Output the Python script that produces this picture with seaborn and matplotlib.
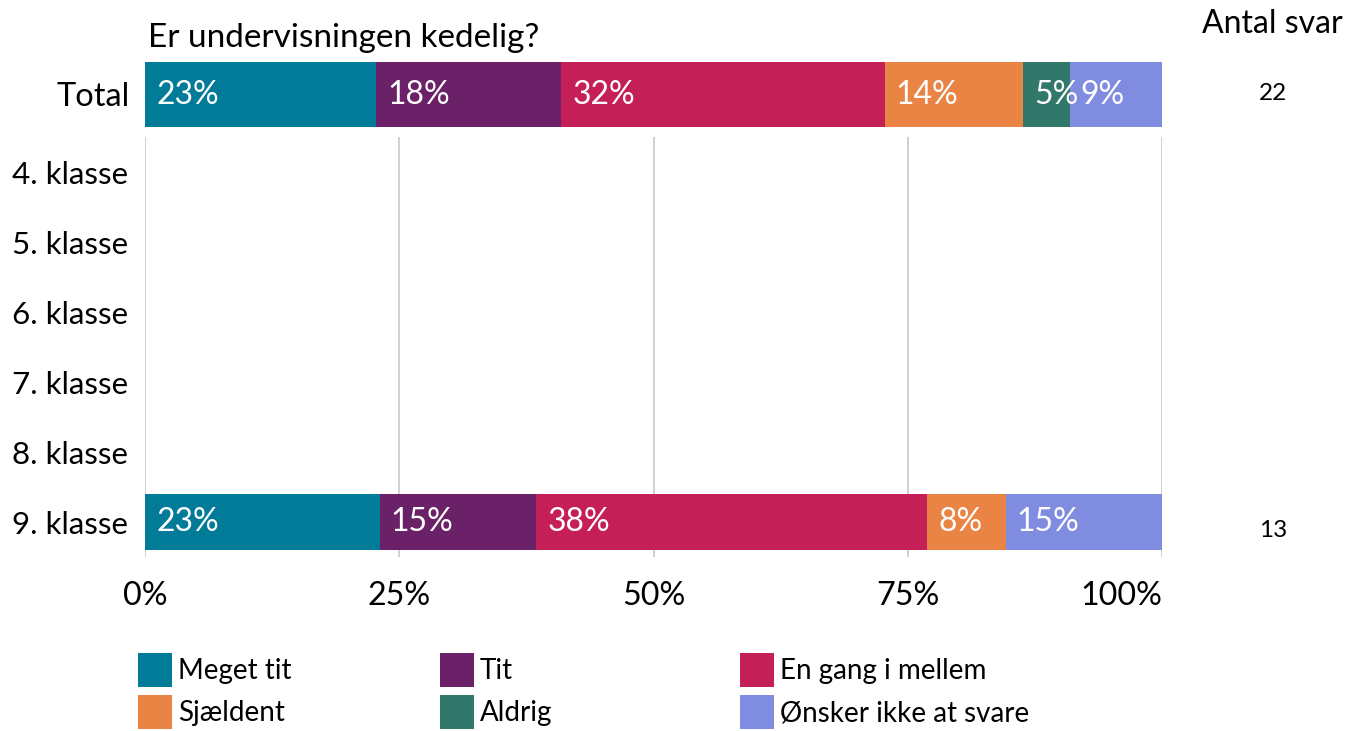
import numpy as np
import pandas as pd
import matplotlib
matplotlib.use("Agg")
import matplotlib.pyplot as plt
import seaborn as sns
from matplotlib.patches import Patch
from matplotlib.transforms import blended_transform_factory

# Survey question, answer options and colours
question = "Er undervisningen kedelig?"
answers = ["Meget tit", "Tit", "En gang i mellem", "Sjældent", "Aldrig",
           "Ønsker ikke at svare"]
colors = ["#027B99", "#6A2167", "#C42057", "#EA8445", "#31786B", "#7F8CE0"]

# Rows of the lower panel (class levels)
classes = ["4. klasse", "5. klasse", "6. klasse", "7. klasse", "8. klasse",
           "9. klasse"]

# Answer counts per group (in the order of `answers`)
total_counts = [5, 4, 7, 3, 1, 2]
class_9_counts = [3, 2, 5, 1, 0, 2]
counts_by_group = {"Total": total_counts, "9. klasse": class_9_counts}

x_ticks = [0, 25, 50, 75, 100]

sns.set_style("white")
plt.rcParams["font.family"] = ["Lato", "DejaVu Sans"]
plt.rcParams["text.color"] = "black"
plt.rcParams["xtick.color"] = "black"
plt.rcParams["ytick.color"] = "black"
plt.rcParams["xtick.labelcolor"] = "black"
plt.rcParams["ytick.labelcolor"] = "black"

W, H = 1347, 731
fig = plt.figure(figsize=(W / 100, H / 100), dpi=100)


def frac_box(x0, y0, x1, y1):
    return [x0 / W, 1 - y1 / H, (x1 - x0) / W, (y1 - y0) / H]


ax_top = fig.add_axes(frac_box(145, 62, 1162, 127))
ax_main = fig.add_axes(frac_box(145, 137, 1162, 557))


def build_frame(order):
    rows = []
    for g in order:
        counts = counts_by_group.get(g)
        if counts is None:
            for a in answers:
                rows.append(dict(group=g, answer=a, pct=np.nan, left=np.nan,
                                 right=np.nan, n=np.nan))
            continue
        n = sum(counts)
        pct = 100 * np.array(counts) / n
        right = np.cumsum(pct)
        left = right - pct
        for a, p, l, r in zip(answers, pct, left, right):
            rows.append(dict(group=g, answer=a, pct=p, left=l, right=r, n=n))
    return pd.DataFrame(rows)


def draw_stacked(ax, order, count_offsets):
    df = build_frame(order)
    # cumulative bars drawn from the outermost segment inwards
    for i in reversed(range(len(answers))):
        sub = df[df["answer"] == answers[i]]
        sns.barplot(data=sub, x="right", y="group", order=order,
                    color=colors[i], saturation=1, width=0.8, errorbar=None,
                    orient="h", linewidth=0, ax=ax)
    pos = {g: k for k, g in enumerate(order)}
    for _, r in df.dropna().iterrows():
        if r["pct"] <= 0:
            continue
        ax.annotate(f"{round(r['pct']):d}%", xy=(r["left"], pos[r["group"]]),
                    xytext=(8, 0), textcoords="offset points",
                    ha="left", va="center", color="white", fontsize=23)
    trans = blended_transform_factory(fig.transFigure, ax.transData)
    for g, counts in counts_by_group.items():
        if g in pos:
            ax.annotate(f"{sum(counts)}", xy=(1273 / W, pos[g]),
                        xycoords=trans,
                        xytext=(0, count_offsets.get(g, 0)),
                        textcoords="offset points",
                        ha="center", va="center", fontsize=17.5)
    ax.set_xlim(0, 100)
    ax.set_xlabel("")
    ax.set_ylabel("")
    for s in ax.spines.values():
        s.set_visible(False)


# Total bar
draw_stacked(ax_top, ["Total"], {"Total": 1})
ax_top.set_ylim(0.4, -0.4)
ax_top.set_xticks([])
ax_top.grid(False)
ax_top.tick_params(axis="y", length=0, pad=11, labelsize=23.4)

# Class rows
draw_stacked(ax_main, classes, {"9. klasse": -6})
ax_main.set_ylim(5.5, -0.5)
ax_main.set_axisbelow(True)
ax_main.grid(axis="x", color="#C8C8C8", linewidth=1.2)
ax_main.grid(axis="y", visible=False)
ax_main.set_xticks(x_ticks)
ax_main.set_xticklabels([f"{t}%" for t in x_ticks])
ax_main.tick_params(axis="x", length=0, pad=17, labelsize=23.2)
ax_main.tick_params(axis="y", length=0, pad=12, labelsize=22.6)
ax_main.get_xticklabels()[-1].set_horizontalalignment("right")

# Titles
fig.text(148 / W, 1 - 38 / H, question, ha="left", va="center", fontsize=24)
fig.text(1343 / W, 1 - 24 / H, "Antal svar", ha="right", va="center",
         fontsize=23)

# Legend: three columns, two entries each
col_x = [138, 440, 740]
for c in range(3):
    idx = [c, c + 3]
    handles = [Patch(facecolor=colors[i], edgecolor="none") for i in idx]
    fig.legend(handles, [answers[i] for i in idx], loc="upper left",
               bbox_to_anchor=(col_x[c] / W, 1 - 653 / H), frameon=False,
               borderpad=0, borderaxespad=0, handlelength=1.22,
               handleheight=1.5, handletextpad=0.22, labelspacing=0.29,
               fontsize=20)

fig.savefig("out.png", dpi=100)
